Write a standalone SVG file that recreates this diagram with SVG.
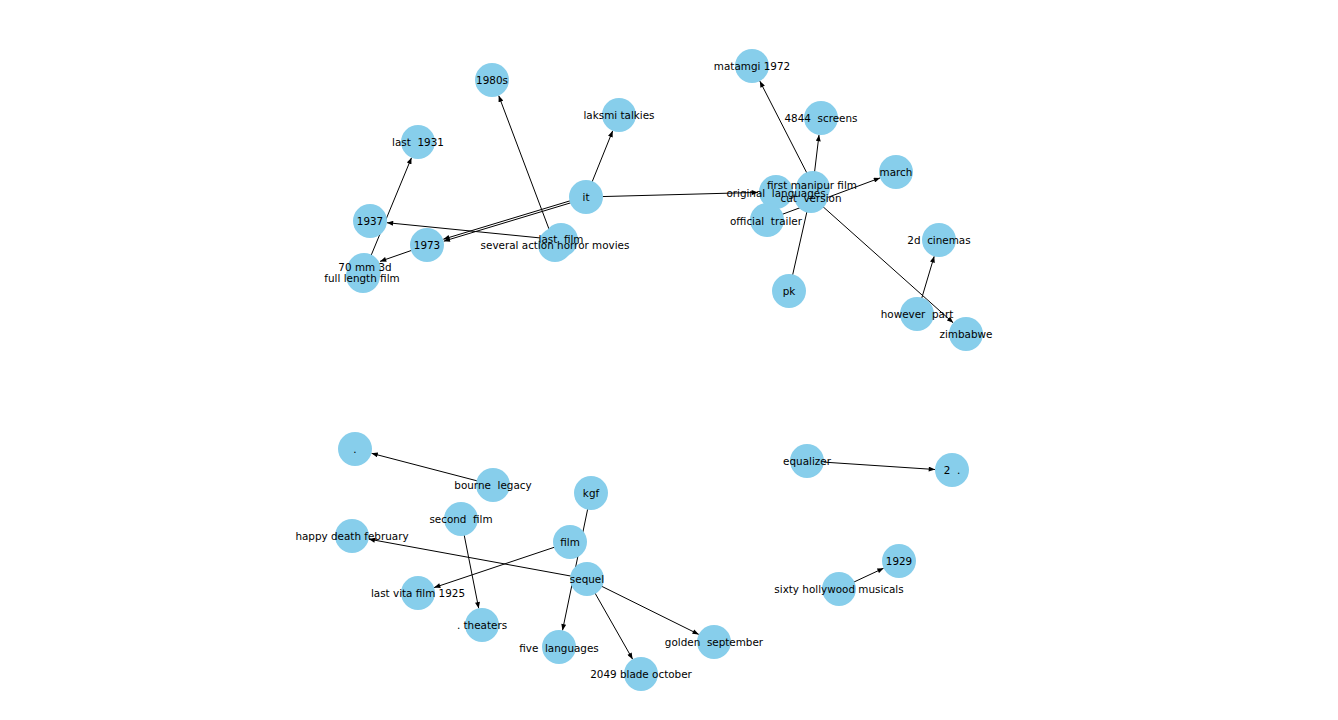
<svg xmlns="http://www.w3.org/2000/svg" width="1338" height="720" viewBox="0 0 1338 720">
<style>
.n circle{fill:#87CEEB}
.n text{font-family:"DejaVu Sans",sans-serif;font-size:10.4px;fill:#000;text-anchor:middle;dominant-baseline:central}
#edges line{stroke:#000;stroke-width:1;marker-end:url(#ah)}
</style>
<defs>
<marker id="ah" viewBox="0 0 10 8" refX="10" refY="4" markerWidth="7" markerHeight="5" markerUnits="userSpaceOnUse" orient="auto">
<path d="M0,0L10,4L0,8z" fill="#000"/>
</marker>
</defs>
<rect width="1338" height="720" fill="#fff"/>
<g id="edges">
<line x1="586" y1="197" x2="612.7" y2="130.8"/>
<line x1="586" y1="196" x2="443.3" y2="239.2"/>
<line x1="586" y1="198.2" x2="443.7" y2="241.2"/>
<line x1="427" y1="245" x2="380" y2="261.4"/>
<line x1="363" y1="275" x2="411.5" y2="157.7"/>
<line x1="561" y1="240" x2="386.9" y2="222.7"/>
<line x1="555" y1="245" x2="498.7" y2="95.6"/>
<line x1="586" y1="197" x2="758" y2="192.4"/>
<line x1="813" y1="185" x2="759.8" y2="81.1"/>
<line x1="813" y1="185" x2="819" y2="134.9"/>
<line x1="767" y1="220" x2="880.1" y2="177.9"/>
<line x1="789" y1="291" x2="809.2" y2="201.6"/>
<line x1="811" y1="196" x2="953.2" y2="322.8"/>
<line x1="917" y1="314" x2="934.2" y2="256.3"/>
<line x1="493" y1="485" x2="371.5" y2="453.3"/>
<line x1="461" y1="519" x2="478.7" y2="608.3"/>
<line x1="591" y1="493" x2="562.5" y2="630.4"/>
<line x1="570" y1="542" x2="434.1" y2="587.6"/>
<line x1="587" y1="579" x2="368.7" y2="539.1"/>
<line x1="587" y1="579" x2="632.6" y2="659.2"/>
<line x1="587" y1="579" x2="698.8" y2="634.4"/>
<line x1="807" y1="461" x2="935" y2="469.5"/>
<line x1="839" y1="589" x2="883.6" y2="568.2"/>
</g>
<g id="n-1980s" class="n"><circle cx="492" cy="80" r="17"/><text x="492" y="80">1980s</text></g>
<g id="n-laksmi" class="n"><circle cx="619" cy="115" r="17"/><text x="619" y="115">laksmi talkies</text></g>
<g id="n-last1931" class="n"><circle cx="418" cy="142" r="17"/><text x="418" y="142" xml:space="preserve">last  1931</text></g>
<g id="n-it" class="n"><circle cx="586" cy="197" r="17"/><text x="586" y="197">it</text></g>
<g id="n-1937" class="n"><circle cx="370" cy="221" r="17"/><text x="370" y="221">1937</text></g>
<g id="n-1973" class="n"><circle cx="427" cy="245" r="17"/><text x="427" y="245">1973</text></g>
<g id="n-sahm" class="n"><circle cx="555" cy="245" r="17"/></g>
<g id="n-lastfilm" class="n"><circle cx="561" cy="240" r="17"/><text x="561" y="239" xml:space="preserve">last  film</text></g>
<g id="n-sahm-label" class="n"><text x="555" y="245">several action horror movies</text></g>
<g id="n-70mm" class="n"><circle cx="364" cy="270" r="17"/></g>
<g id="n-fulllength" class="n"><circle cx="363" cy="276" r="17"/><text x="365" y="267">70 mm 3d</text><text x="362" y="278">full length film</text></g>
<g id="n-matamgi" class="n"><circle cx="752" cy="66" r="17"/><text x="752" y="66">matamgi 1972</text></g>
<g id="n-4844" class="n"><circle cx="821" cy="118" r="17"/><text x="821" y="118" xml:space="preserve">4844  screens</text></g>
<g id="n-march" class="n"><circle cx="896" cy="172" r="17"/><text x="896" y="172">march</text></g>
<g id="n-orig" class="n"><circle cx="776" cy="192" r="17"/></g>
<g id="n-trailer" class="n"><circle cx="767" cy="220" r="17"/></g>
<g id="n-cut" class="n"><circle cx="811" cy="196" r="17"/></g>
<g id="n-manipur" class="n"><circle cx="813" cy="188" r="17"/></g>
<g id="n-labels-right" class="n">
<text x="776" y="193" xml:space="preserve">original  languages</text>
<text x="766" y="221" xml:space="preserve">official  trailer</text>
<text x="812" y="185">first manipur film</text>
<text x="811" y="198" xml:space="preserve">cut  version</text>
</g>
<g id="n-pk" class="n"><circle cx="789" cy="291" r="17"/><text x="789" y="291">pk</text></g>
<g id="n-2d" class="n"><circle cx="939" cy="240" r="17"/><text x="939" y="240" xml:space="preserve">2d  cinemas</text></g>
<g id="n-however" class="n"><circle cx="917" cy="314" r="17"/><text x="917" y="314" xml:space="preserve">however  part</text></g>
<g id="n-zimbabwe" class="n"><circle cx="966" cy="334" r="17"/><text x="966" y="334">zimbabwe</text></g>
<g id="n-dot" class="n"><circle cx="355" cy="449" r="17"/><text x="355" y="449">.</text></g>
<g id="n-bourne" class="n"><circle cx="493" cy="485" r="17"/><text x="493" y="485" xml:space="preserve">bourne  legacy</text></g>
<g id="n-kgf" class="n"><circle cx="591" cy="493" r="17"/><text x="591" y="493">kgf</text></g>
<g id="n-second" class="n"><circle cx="461" cy="519" r="17"/><text x="461" y="519" xml:space="preserve">second  film</text></g>
<g id="n-happy" class="n"><circle cx="352" cy="536" r="17"/><text x="352" y="536">happy death february</text></g>
<g id="n-film" class="n"><circle cx="570" cy="542" r="17"/><text x="570" y="542">film</text></g>
<g id="n-sequel" class="n"><circle cx="587" cy="579" r="17"/><text x="587" y="579">sequel</text></g>
<g id="n-vita" class="n"><circle cx="418" cy="593" r="17"/><text x="418" y="593">last vita film 1925</text></g>
<g id="n-theaters" class="n"><circle cx="482" cy="625" r="17"/><text x="482" y="625">. theaters</text></g>
<g id="n-five" class="n"><circle cx="559" cy="647" r="17"/><text x="559" y="648" xml:space="preserve">five  languages</text></g>
<g id="n-2049" class="n"><circle cx="641" cy="674" r="17"/><text x="641" y="674">2049 blade october</text></g>
<g id="n-golden" class="n"><circle cx="714" cy="642" r="17"/><text x="714" y="642" xml:space="preserve">golden  september</text></g>
<g id="n-equalizer" class="n"><circle cx="807" cy="461" r="17"/><text x="807" y="461">equalizer</text></g>
<g id="n-2dot" class="n"><circle cx="952" cy="470" r="17"/><text x="952" y="470" xml:space="preserve">2  .</text></g>
<g id="n-1929" class="n"><circle cx="899" cy="561" r="17"/><text x="899" y="561">1929</text></g>
<g id="n-sixty" class="n"><circle cx="839" cy="589" r="17"/><text x="839" y="589">sixty hollywood musicals</text></g>
</svg>
